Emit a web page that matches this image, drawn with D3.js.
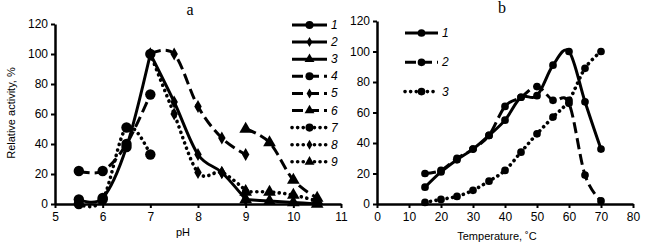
<!DOCTYPE html>
<html>
<head>
<meta charset="utf-8">
<script src="https://cdn.jsdelivr.net/npm/d3@7"></script>
<style>
  body { margin: 0; background: #fff; }
  svg text { font-family: "Liberation Sans", Arial, sans-serif; fill: #000; }
  .axis path, .axis line { stroke: #000; }
  .axis text { font-size: 12px; }
</style>
</head>
<body>
<div id="chart"></div>
<script>
// panel a - pH
let phTicks = [5, 6, 7, 8, 9, 10, 11];
let actTicks = [0, 20, 40, 60, 80, 100, 120];
let phNames = ["1", "2", "3", "4", "5", "6", "7", "8", "9"];
let ph1 = [[5.5, 3], [6, 4], [6.5, 38], [7, 100]];
let ph2 = [[7, 100], [7.5, 68], [8, 33], [8.5, 21], [9, 3]];
let ph3 = [[9, 3], [9.5, 2], [10, 1], [10.5, 0]];
let ph4 = [[5.5, 22], [6, 22], [6.5, 40], [7, 73]];
let ph5 = [[7, 100], [7.5, 100], [8, 65], [8.5, 44], [9, 33]];
let ph6 = [[9, 50], [9.5, 41], [10, 16], [10.5, 4]];
let ph7 = [[5.5, 0], [6, 3], [6.5, 51], [7, 33]];
let ph8 = [[7, 100], [7.5, 60], [8, 21], [8.5, 21], [9, 9]];
let ph9 = [[9, 8], [9.5, 8], [10, 6], [10.5, 2]];

// panel b - temperature
let tTicks = [0, 10, 20, 30, 40, 50, 60, 70, 80];
let tNames = ["1", "2", "3"];
let temps = [15, 20, 25, 30, 35, 40, 45, 50, 55, 60, 65, 70];
let t1 = [11, 21, 29, 36, 45, 55, 70, 71, 91, 100, 67, 36];
let t2 = [20, 22, 30, 36, 45, 64, 70, 77, 68, 66, 19, 2];
let t3 = [1, 3, 5, 9, 15, 22, 34, 46, 57, 68, 89, 100];

let svg = d3.select("#chart").append("svg")
    .attr("width", 648).attr("height", 247);

let styles = {
    solid: { dash: null, cap: "butt", w: 3 },
    dashed: { dash: "11,5", cap: "butt", w: 3 },
    dotted: { dash: "0.1,5.5", cap: "round", w: 3.6 }
};

function marker(g, type, x, y, s) {
    let sym = { circle: d3.symbolCircle, diamond: d3.symbolDiamond, triangle: d3.symbolTriangle }[type];
    let size = { circle: 85, diamond: 48, triangle: 70 }[type] * (s || 1);
    g.append("path")
        .attr("d", d3.symbol(sym).size(size)())
        .attr("transform", "translate(" + x + "," + y + ")")
        .attr("fill", "#000");
}

function drawPanel(cfg) {
    let x = d3.scaleLinear().domain(cfg.xDomain).range(cfg.xRange);
    let y = d3.scaleLinear().domain([0, 120]).range(cfg.yRange);
    let g = svg.append("g");

    let xAxis = g.append("g").attr("class", "axis")
        .attr("transform", "translate(0," + cfg.yRange[0] + ")")
        .call(d3.axisBottom(x).tickValues(cfg.xTicks).tickFormat(d3.format("d"))
            .tickSize(4).tickSizeOuter(0).tickPadding(4));
    xAxis.select(".domain").attr("stroke-width", 2.5);
    xAxis.selectAll(".tick line").attr("stroke-width", 2);

    let yAxis = g.append("g").attr("class", "axis")
        .attr("transform", "translate(" + cfg.xRange[0] + ",0)")
        .call(d3.axisLeft(y).tickValues(actTicks).tickSize(4).tickSizeOuter(0).tickPadding(3));
    yAxis.select(".domain").attr("stroke-width", 2.5);
    yAxis.selectAll(".tick line").attr("stroke-width", 2);

    let line = d3.line()
        .x(d => x(d[0])).y(d => y(d[1]))
        .curve(d3.curveCatmullRom.alpha(0));

    cfg.series.forEach(function (s) {
        let st = styles[s.style];
        g.append("path")
            .datum(s.data)
            .attr("fill", "none")
            .attr("stroke", "#000")
            .attr("stroke-width", st.w)
            .attr("stroke-linecap", st.cap)
            .attr("stroke-dasharray", st.dash)
            .attr("d", line);
        s.data.forEach(d => marker(g, s.marker, x(d[0]), y(d[1]), cfg.msize));
    });

    // legend
    cfg.series.forEach(function (s, i) {
        let st = styles[s.style];
        let ly = cfg.legend.y + i * cfg.legend.step;
        g.append("line")
            .attr("x1", cfg.legend.x).attr("x2", cfg.legend.x + cfg.legend.len)
            .attr("y1", ly).attr("y2", ly)
            .attr("stroke", "#000")
            .attr("stroke-width", st.w)
            .attr("stroke-linecap", st.cap)
            .attr("stroke-dasharray", st.dash);
        marker(g, s.marker, cfg.legend.x + cfg.legend.len / 2, ly, cfg.lsize);
        g.append("text")
            .attr("x", cfg.legend.x + cfg.legend.len + 4)
            .attr("y", ly + 4)
            .attr("font-size", 12)
            .attr("font-style", "italic")
            .text(s.name);
    });

    g.append("text")
        .attr("x", cfg.title.x).attr("y", cfg.title.y)
        .attr("text-anchor", "middle")
        .style("font-family", "'Liberation Serif', 'Times New Roman', serif")
        .attr("font-size", 16)
        .text(cfg.title.text);

    g.append("text")
        .attr("x", cfg.xLabel.x).attr("y", cfg.xLabel.y)
        .attr("text-anchor", "middle")
        .attr("font-size", 11)
        .text(cfg.xLabel.text);
}

let phSeries = [ph1, ph2, ph3, ph4, ph5, ph6, ph7, ph8, ph9];
let phStyles = ["solid", "solid", "solid", "dashed", "dashed", "dashed", "dotted", "dotted", "dotted"];
let phMarks = ["circle", "diamond", "triangle", "circle", "diamond", "triangle", "circle", "diamond", "triangle"];

drawPanel({
    xDomain: [5, 11], xRange: [55, 341], yRange: [204, 24], xTicks: phTicks, msize: 1, lsize: 0.6,
    series: phSeries.map((d, i) => ({ data: d, name: phNames[i], style: phStyles[i], marker: phMarks[i] })),
    legend: { x: 292, len: 35, y: 25, step: 17.1 },
    title: { x: 190, y: 15, text: "a" },
    xLabel: { x: 183, y: 236, text: "pH" }
});

let tStyles = ["solid", "dashed", "dotted"];
drawPanel({
    xDomain: [0, 80], xRange: [377, 633], yRange: [204, 21], xTicks: tTicks, msize: 0.55, lsize: 0.55,
    series: [t1, t2, t3].map((v, i) => ({
        data: temps.map((t, j) => [t, v[j]]), name: tNames[i], style: tStyles[i], marker: "circle"
    })),
    legend: { x: 405, len: 33, y: 33, step: 29.3 },
    title: { x: 502, y: 13, text: "b" },
    xLabel: { x: 497, y: 240, text: "Temperature, \u02DAC" }
});

svg.append("text")
    .attr("transform", "translate(15,113) rotate(-90)")
    .attr("text-anchor", "middle")
    .attr("font-size", 11)
    .text("Relative activity, %");
</script>
</body>
</html>
